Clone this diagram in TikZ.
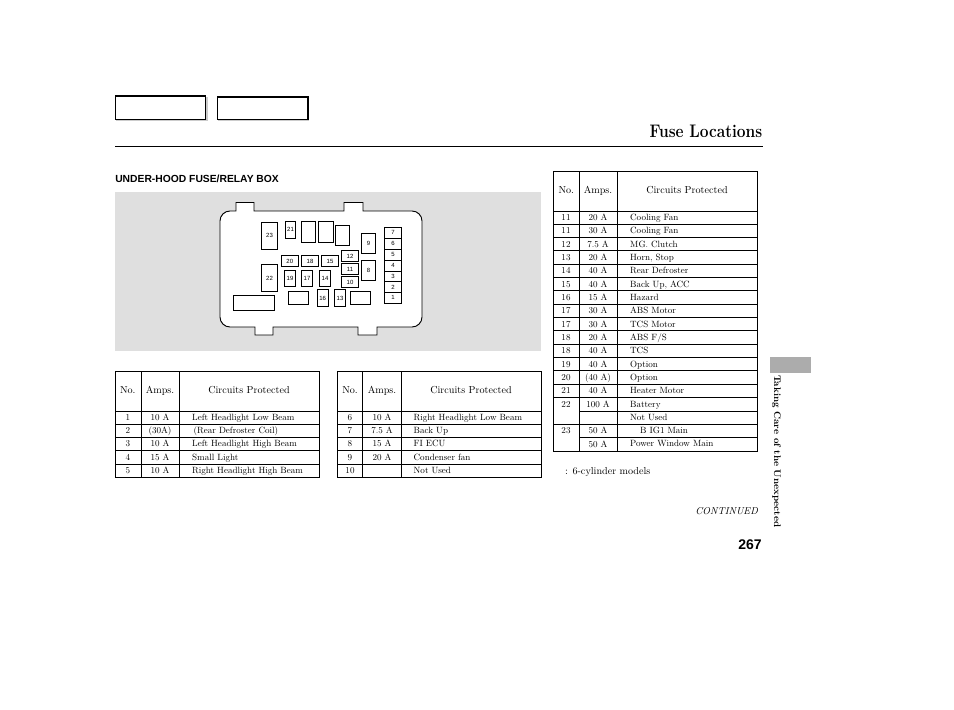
\documentclass[tikz,border=0pt]{standalone}
\usepackage{fontspec}
\newfontfamily\helv{Liberation Sans}
\tikzset{
  cell/.style={inner sep=0pt,scale=0.68,anchor=base,font=\fontsize{10}{11}\selectfont},
  what/.style={cell,anchor=base west},
  head/.style={inner sep=0pt,scale=0.76,anchor=base,font=\fontsize{10}{11}\selectfont},
  fuse/.style={draw,line width=0.55pt,fill=white,inner sep=0pt,font=\helv\fontsize{4.5}{5}\selectfont},
  rule/.style={line width=0.75pt},
}
\begin{document}
\begin{tikzpicture}[x=0.75pt,y=-0.75pt]
  \useasboundingbox (0,0) rectangle (954,710);
  % top boxes
  \fill[gray!40] (116,97) rectangle (207.5,121);
  \draw[line width=0.8pt,fill=white] (115.5,96) rectangle (205.8,119.3);
  \fill[gray!40] (218,98) rectangle (309,121);
  \draw[line width=0.8pt,fill=white] (217.5,97) rectangle (308,119.8);
  % title
  \node[anchor=base east,inner sep=0pt,xscale=0.855,font=\bfseries\fontsize{13.6}{15}\selectfont] (title) at (762.5,137.5) {Fuse Locations};
  \draw[line width=0.75pt] (115,146.5)--(763,146.5);
  \node[anchor=base west,inner sep=0pt,font=\helv\bfseries\fontsize{7.74}{9}\selectfont] (boxname) at (115,182) {UNDER-HOOD FUSE/RELAY BOX};
  % fuse box
  \fill[gray!25] (115,192) rectangle (541,351);
  \draw[line width=0.7pt,fill=white] (220,221) to[out=90,in=180] (230,211)
    -- (236,211)--(236,202.5)--(254,202.5)--(254,211)--(344,211)--(344,202.5)--(363,202.5)--(363,211)
    -- (412,211) to[out=0,in=90] (422,221) -- (422,317) to[out=-90,in=0] (412,327)
    -- (377,327)--(377,335)--(358,335)--(358,327)--(273,327)--(273,335)--(255,335)--(255,327)
    -- (230,327) to[out=180,in=-90] (220,317) -- cycle;
  \foreach \name/\xa/\ya/\xb/\yb/\txt in {
    f23/261.3/222.3/277.7/249.3/23, f21/285.3/221.3/295.7/238.3/21,
    ra/301.3/221.3/315.7/242.3/{}, rb/318.3/221.3/333.3/242.3/{}, rc/335.3/225.3/349.3/245.3/{},
    f9/361.3/233.3/375.7/253.7/9, f7/384.3/227.3/401.7/238.3/7, f6/384.3/238.3/401.7/249.3/6,
    f5/384.3/249.3/401.7/260.3/5, f4/384.3/260.3/401.7/271/4, f3/384.3/271/401.7/281.7/3,
    f2/384.3/281.7/401.7/292.3/2, f1/384.3/292.3/401.7/303.3/1,
    f20/281.3/255.3/298.3/266.7/20, f18/301.3/255.3/318.7/266.7/18, f15/321.3/255.3/338.7/266.7/15,
    f12/341.3/250.3/358.7/261.7/12, f11/341.3/263.3/358.7/274.7/11, f10/341.3/276.3/358.7/287.7/10,
    f8/361.3/260.3/375.7/280.7/8, f22/261.3/264.3/277.7/291.7/22, f19/284.3/270.3/295.7/286.7/19,
    f17/301.3/270.3/312.7/286.7/17, f14/319.3/270.3/330.7/286.7/14,
    rd/233.3/295.3/274.7/310.7/{}, re/288.3/291.3/308.7/304.3/{}, f16/317.3/289.3/328/306.7/16,
    f13/334.3/289.3/345.7/306.7/13, rf/350.3/291.3/370.7/304.3/{}}
    \draw[fuse] (\xa,\ya) rectangle (\xb,\yb) node[midway] (\name) {\txt};
  % left table
  \draw[rule] (115.3,371.7) rectangle (319.3,477.3);
  \draw[rule] (141.3,371.7)--(141.3,477.3);
  \draw[rule] (179.3,371.7)--(179.3,477.3);
  \node[head] (lno) at (127.8,393.5) {No.};
  \node[head] (lamps) at (160,393.5) {Amps.};
  \node[head] (lwhat) at (249,393.5) {Circuits Protected};
  \foreach \no/\amps/\what [count=\i,evaluate=\i as \y using 411+13.27*(\i-1)] in {
    1/10 A/Left Headlight Low Beam, 2/(30A)/{\,(Rear Defroster Coil)}, 3/10 A/Left Headlight High Beam,
    4/15 A/Small Light, 5/10 A/Right Headlight High Beam}{
    \draw[rule] (115.3,\y)--(319.3,\y);
    \node[cell] (lno\i) at (128,\y+9.2) {\no};
    \node[cell] (lamps\i) at (160,\y+9.2) {\amps};
    \node[what] (lwhat\i) at (192,\y+9.2) {\what};
  }
  % middle table
  \draw[rule] (337.3,371.7) rectangle (541.3,477.3);
  \draw[rule] (362.7,371.7)--(362.7,477.3);
  \draw[rule] (401.3,371.7)--(401.3,477.3);
  \node[head] (mno) at (350,393.5) {No.};
  \node[head] (mamps) at (382,393.5) {Amps.};
  \node[head] (mwhat) at (471,393.5) {Circuits Protected};
  \foreach \no/\amps/\what [count=\i,evaluate=\i as \y using 411+13.27*(\i-1)] in {
    6/10 A/Right Headlight Low Beam, 7/7.5 A/Back Up, 8/15 A/FI ECU,
    9/20 A/Condenser fan, 10/{}/Not Used}{
    \draw[rule] (337.3,\y)--(541.3,\y);
    \node[cell] (mno\i) at (350,\y+9.2) {\no};
    \node[cell] (mamps\i) at (382,\y+9.2) {\amps};
    \node[what] (mwhat\i) at (413.5,\y+9.2) {\what};
  }
  % right table
  \draw[rule] (553.3,171.7) rectangle (757.7,451);
  \draw[rule] (579.3,171.7)--(579.3,451);
  \draw[rule] (617.7,171.7)--(617.7,451);
  \node[head] (rno) at (566.3,193.5) {No.};
  \node[head] (ramps) at (598,193.5) {Amps.};
  \node[head] (rwhat) at (687,193.5) {Circuits Protected};
  \foreach \no/\amps/\what [count=\i,evaluate=\i as \y using 211+13.33*(\i-1)] in {
    11/20 A/Cooling Fan, 11/30 A/Cooling Fan, 12/7.5 A/MG. Clutch, 13/20 A/{Horn, Stop},
    14/40 A/Rear Defroster, 15/40 A/{Back Up, ACC}, 16/15 A/Hazard, 17/30 A/ABS Motor,
    17/30 A/TCS Motor, 18/20 A/{ABS F/S}, 18/40 A/TCS, 19/40 A/Option, 20/(40 A)/Option,
    21/40 A/Heater Motor, 22/100 A/Battery}{
    \draw[rule] (553.3,\y)--(757.7,\y);
    \node[cell] (rno\i) at (566,\y+9.5) {\no};
    \node[cell] (ramps\i) at (598,\y+9.5) {\amps};
    \node[what] (rwhat\i) at (630,\y+9.5) {\what};
  }
  \draw[rule] (579.3,411)--(757.7,411);
  \draw[rule] (553.3,424.3)--(757.7,424.3);
  \draw[rule] (579.3,437.6)--(757.7,437.6);
  \node[what] (notused) at (630,420) {Not Used};
  \node[cell] (rno23) at (566,433.3) {23};
  \node[cell] (ramps23) at (598,433.5) {50 A};
  \node[what] (igmain) at (640,433.3) {B IG1 Main};
  \node[cell] (ramps24) at (598,447) {50 A};
  \node[what] (window) at (630,446.3) {Power Window Main};
  \node[what,scale=1.12] (models) at (565,474.5) {: 6-cylinder models};
  % page furniture
  \node[anchor=base east,inner sep=0pt,scale=0.75,font=\itshape\fontsize{10}{11}\selectfont] (cont) at (758,514.5) {CONTINUED};
  \node[anchor=base east,inner sep=0pt,font=\helv\bfseries\fontsize{10.5}{12}\selectfont] (page) at (762,549) {267};
  \fill[gray!65] (770,357) rectangle (811,373);
  \node[rotate=-90,anchor=west,inner sep=0pt,scale=0.72,font=\bfseries\fontsize{10}{11}\selectfont] (side) at (776.5,375) {Taking Care of the Unexpected};
\end{tikzpicture}
\end{document}
